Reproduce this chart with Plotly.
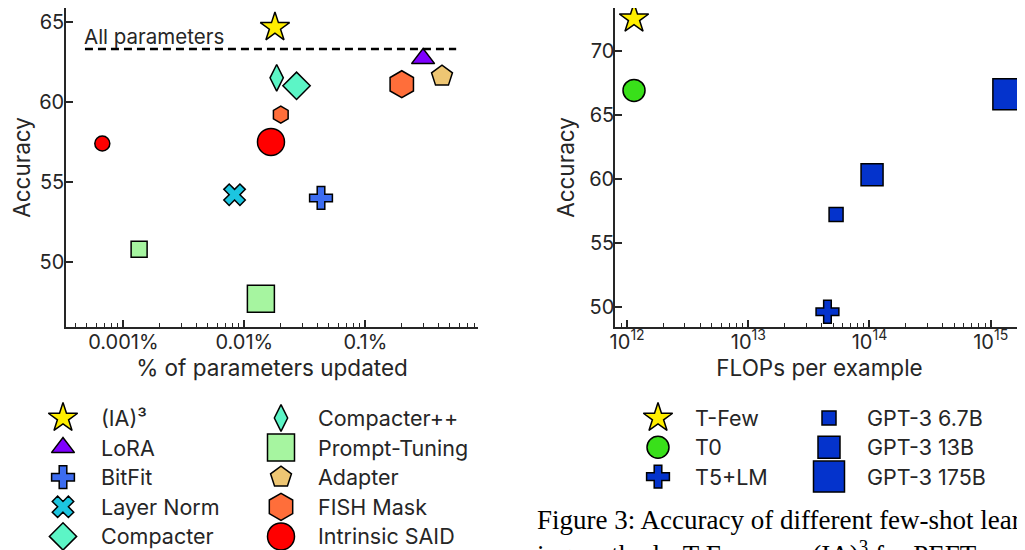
import plotly.graph_objects as go

# ---------------- data: left panel (parameter-efficient fine-tuning methods) ----------------
PEFT_METHODS = ["(IA)³", "LoRA", "BitFit", "Layer Norm", "Compacter",
                "Compacter++", "Prompt-Tuning", "Adapter", "FISH Mask", "Intrinsic SAID"]
# one entry per plotted point
PEFT_POINT_METHOD = ["Compacter++", "Compacter", "Prompt-Tuning", "Prompt-Tuning", "Adapter",
                     "FISH Mask", "FISH Mask", "Intrinsic SAID", "Intrinsic SAID",
                     "Layer Norm", "BitFit", "LoRA", "(IA)³"]
PEFT_POINT_VARIANT = ["main", "main", "small", "main", "main",
                      "small", "main", "small", "main",
                      "main", "main", "main", "main"]
PEFT_PCT_UPDATED = [0.0185, 0.027, 0.00135, 0.0137, 0.43,
                    0.020, 0.20, 0.00067, 0.0166,
                    0.0083, 0.043, 0.30, 0.0179]
PEFT_ACCURACY = [61.5, 61.0, 50.8, 47.7, 61.6,
                 59.2, 61.1, 57.4, 57.5,
                 54.2, 54.0, 62.7, 64.65]
ALL_PARAMETERS_ACCURACY = 63.3
ALL_PARAMETERS_LABEL = "All parameters"
PEFT_X_TICKS = [0.001, 0.01, 0.1]
PEFT_X_TICKTEXT = ["0.001%", "0.01%", "0.1%"]
PEFT_Y_TICKS = [50, 55, 60, 65]

# ---------------- data: right panel (few-shot methods vs. inference cost) ----------------
FEWSHOT_MODELS = ["T-Few", "T0", "T5+LM", "GPT-3 6.7B", "GPT-3 13B", "GPT-3 175B"]
FEWSHOT_FLOPS = [1.14e12, 1.14e12, 4.5e13, 5.3e13, 1.05e14, 1.4e15]
FEWSHOT_ACCURACY = [72.5, 66.9, 49.6, 57.2, 60.3, 66.6]
FLOPS_X_TICKS = [1e12, 1e13, 1e14, 1e15]
FLOPS_X_TICKTEXT = ["10<sup>12</sup>", "10<sup>13</sup>", "10<sup>14</sup>", "10<sup>15</sup>"]
FLOPS_Y_TICKS = [50, 55, 60, 65, 70]

CAPTION_LINES = ["Figure 3: Accuracy of different few-shot learning",
                 "ing methods. T-Few uses (IA)<sup>3</sup> for PEFT methods of T0, T0 uses"]

# ---------------- styles ----------------
YELLOW = "#FFEE00"
PEFT_STYLE = {  # symbol, colour, main size, small size
    "(IA)³": ("star", YELLOW, 22, 22),
    "LoRA": ("triangle-up", "#7F00FF", 20, 20),
    "BitFit": ("cross", "#3C6CF0", 19, 19),
    "Layer Norm": ("x", "#1CC5E0", 19, 19),
    "Compacter": ("diamond", "#5CF5C6", 21, 21),
    "Compacter++": ("diamond-tall", "#5CF5C6", 19, 19),
    "Prompt-Tuning": ("square", "#A6F5A0", 27, 16),
    "Adapter": ("pentagon", "#EEC673", 22, 22),
    "FISH Mask": ("hexagon", "#FF6E3A", 27, 17),
    "Intrinsic SAID": ("circle", "#FF0000", 27, 15),
}
BLUE = "#0433CC"
FEWSHOT_STYLE = {
    "T-Few": ("star", YELLOW, 22),
    "T0": ("circle", "#39E01A", 22),
    "T5+LM": ("cross", BLUE, 19),
    "GPT-3 6.7B": ("square", BLUE, 14),
    "GPT-3 13B": ("square", BLUE, 22),
    "GPT-3 175B": ("square", BLUE, 31),
}
EDGE = dict(color="#000000", width=1.5)
INK = "#262626"
FONT = "Inter"
OFF = 8  # page margin around the figure in the screenshot
W, H = 1025 - OFF, 550 - OFF


def px_x(p):
    return (p - OFF) / W


def px_y(p):
    return min(1.0, 1 - (p - OFF) / H)


fig = go.Figure()

# left panel points
fig.add_trace(go.Scatter(
    x=PEFT_PCT_UPDATED, y=PEFT_ACCURACY, mode="markers", xaxis="x", yaxis="y",
    showlegend=False, cliponaxis=False, hoverinfo="skip",
    marker=dict(
        symbol=[PEFT_STYLE[m][0] for m in PEFT_POINT_METHOD],
        color=[PEFT_STYLE[m][1] for m in PEFT_POINT_METHOD],
        size=[PEFT_STYLE[m][2] if v == "main" else PEFT_STYLE[m][3]
              for m, v in zip(PEFT_POINT_METHOD, PEFT_POINT_VARIANT)],
        line=EDGE, opacity=1),
))

# right panel points
fig.add_trace(go.Scatter(
    x=FEWSHOT_FLOPS, y=FEWSHOT_ACCURACY, mode="markers", xaxis="x2", yaxis="y2",
    showlegend=False, cliponaxis=False, hoverinfo="skip",
    marker=dict(
        symbol=[FEWSHOT_STYLE[m][0] for m in FEWSHOT_MODELS],
        color=[FEWSHOT_STYLE[m][1] for m in FEWSHOT_MODELS],
        size=[FEWSHOT_STYLE[m][2] for m in FEWSHOT_MODELS],
        line=EDGE, opacity=1),
))

# ---------------- hand-made legends on a pixel overlay axis ----------------
def add_legend(labels, symbols, colors, sizes, x_marker, x_text, y0, dy, rows):
    xs, ys = [], []
    for i, lab in enumerate(labels):
        col, row = divmod(i, rows)
        xs.append(x_marker[col] - OFF)
        ys.append(y0 + row * dy - OFF)
        fig.add_annotation(x=x_text[col] - OFF, y=y0 + row * dy - OFF, xref="x3", yref="y3",
                           text=lab, showarrow=False, xanchor="left", yanchor="middle",
                           font=dict(family=FONT, size=21.5, color=INK))
    fig.add_trace(go.Scatter(x=xs, y=ys, mode="markers", xaxis="x3", yaxis="y3",
                             showlegend=False, cliponaxis=False, hoverinfo="skip",
                             marker=dict(symbol=symbols, color=colors, size=sizes,
                                         line=EDGE, opacity=1)))


add_legend(PEFT_METHODS,
           [PEFT_STYLE[m][0] for m in PEFT_METHODS],
           [PEFT_STYLE[m][1] for m in PEFT_METHODS],
           [PEFT_STYLE[m][2] for m in PEFT_METHODS],
           x_marker=[63, 281], x_text=[99, 316], y0=418, dy=29.6, rows=5)
add_legend(FEWSHOT_MODELS,
           [FEWSHOT_STYLE[m][0] for m in FEWSHOT_MODELS],
           [FEWSHOT_STYLE[m][1] for m in FEWSHOT_MODELS],
           [FEWSHOT_STYLE[m][2] for m in FEWSHOT_MODELS],
           x_marker=[658, 829], x_text=[693, 865], y0=418, dy=29.3, rows=3)

# "All parameters" reference line
fig.add_shape(type="line", xref="x domain", yref="y", x0=0.046, x1=0.947,
              y0=ALL_PARAMETERS_ACCURACY, y1=ALL_PARAMETERS_ACCURACY,
              line=dict(color="#000000", width=2.5, dash="8px,5px"))
fig.add_annotation(xref="x domain", yref="y", x=0.046, y=ALL_PARAMETERS_ACCURACY,
                   text=ALL_PARAMETERS_LABEL, showarrow=False, xanchor="left", yanchor="bottom",
                   yshift=-2, xshift=-3, font=dict(family=FONT, size=20.5, color=INK))

# caption text (cut by the figure edge as in the reference)
for i, line in enumerate(CAPTION_LINES):
    fig.add_annotation(xref="paper", yref="paper", x=px_x(535), y=px_y(520 + i * 33),
                       text=line, showarrow=False, xanchor="left", yanchor="middle",
                       font=dict(family="Liberation Serif", size=27, color="#000000"))

# ---------------- axes ----------------
def minor_vals(lo, hi):
    return [m * 10 ** k for k in range(lo, hi) for m in range(2, 10)]


axis_common = dict(showline=True, linecolor=INK, linewidth=1.5, mirror=False,
                   ticks="inside", ticklen=7, tickwidth=1.5, tickcolor=INK,
                   showgrid=False, zeroline=False, automargin=False,
                   tickfont=dict(family=FONT, size=20, color=INK),
                   title_font=dict(family=FONT, size=22.5, color=INK))

fig.update_layout(
    width=W, height=H, margin=dict(l=0, r=0, t=0, b=0, autoexpand=False),
    paper_bgcolor="white", plot_bgcolor="rgba(0,0,0,0)",
    showlegend=False,
    xaxis=dict(domain=[px_x(66), px_x(478)], anchor="y", type="log",
               range=[-3.474, -0.069], tickmode="array",
               tickvals=PEFT_X_TICKS, ticktext=PEFT_X_TICKTEXT,
               minor=dict(tickmode="array", tickvals=minor_vals(-4, 0), ticks="inside",
                          ticklen=4, tickwidth=1.2, tickcolor=INK),
               ticklabelstandoff=-4,
               title=dict(text="% of parameters updated", standoff=2),
               **axis_common),
    yaxis=dict(domain=[px_y(327), px_y(5)], anchor="x", range=[45.94, 65.86],
               tickmode="array", tickvals=PEFT_Y_TICKS, ticklabelstandoff=-4,
               title=dict(text="Accuracy", standoff=9), **axis_common),
    xaxis2=dict(domain=[px_x(615), px_x(1024)], anchor="y2", type="log",
                range=[11.90, 15.275], tickmode="array",
                tickvals=FLOPS_X_TICKS, ticktext=FLOPS_X_TICKTEXT,
                minor=dict(tickmode="array", tickvals=minor_vals(11, 16), ticks="inside",
                           ticklen=4, tickwidth=1.2, tickcolor=INK),
                ticklabelstandoff=-4,
                title=dict(text="FLOPs per example", standoff=2),
                **axis_common),
    yaxis2=dict(domain=[px_y(327), px_y(5)], anchor="x2", range=[48.41, 73.34],
                tickmode="array", tickvals=FLOPS_Y_TICKS, ticklabelstandoff=-5,
                title=dict(text="Accuracy", standoff=8), **axis_common),
    xaxis3=dict(domain=[0, 1], anchor="y3", range=[0, W], visible=False, fixedrange=True),
    yaxis3=dict(domain=[0, 1], anchor="x3", range=[H, 0], visible=False, fixedrange=True),
)

fig.write_html("out.html")
